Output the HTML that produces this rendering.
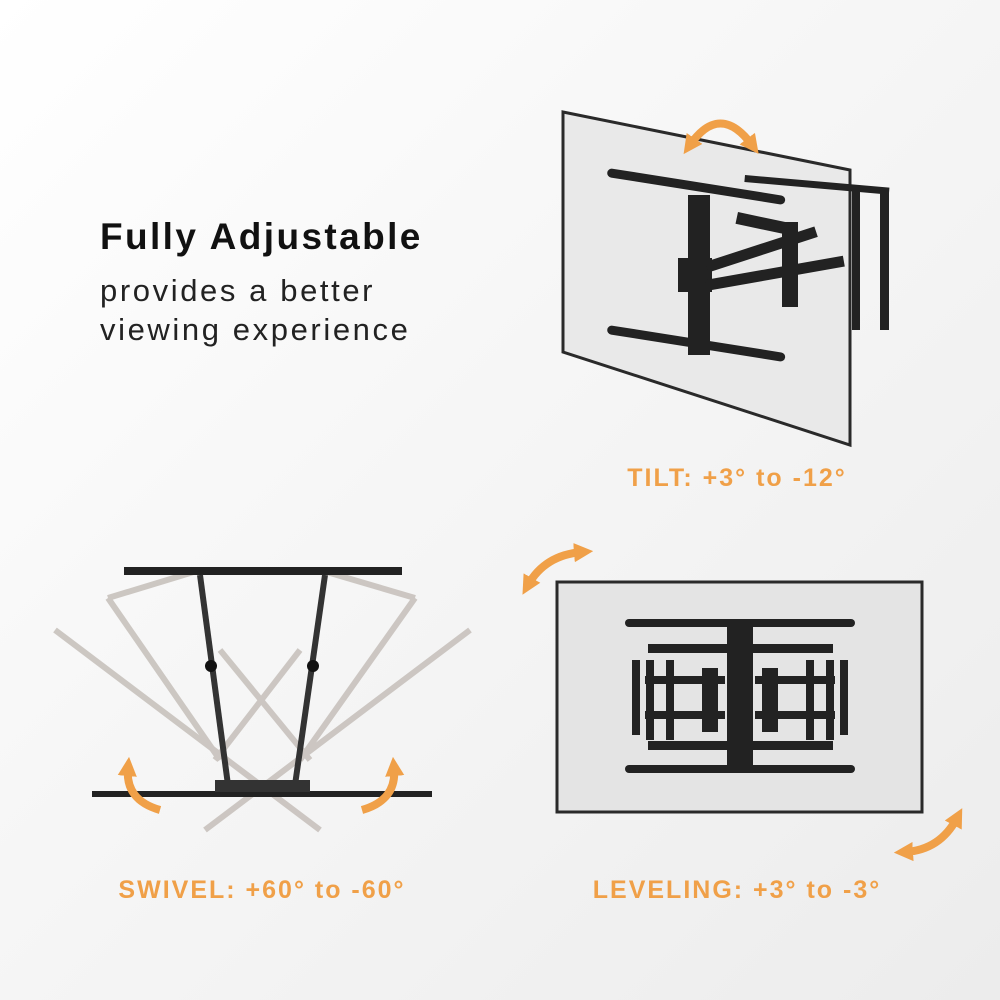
<!DOCTYPE html>
<html><head><meta charset="utf-8"><style>
html,body{margin:0;padding:0}
body{width:1000px;height:1000px;overflow:hidden;background:linear-gradient(135deg,#ffffff 0%,#f6f6f6 45%,#ececec 100%);font-family:"Liberation Sans",sans-serif;position:relative}
.t{position:absolute;white-space:nowrap}
.h{left:100px;top:216px;font-size:37px;font-weight:bold;color:#111;letter-spacing:2.4px}
.s{left:100px;font-size:31px;color:#222;letter-spacing:2.6px}
.o{font-size:25px;font-weight:bold;color:#f0a048;text-align:center;width:400px;letter-spacing:2px}
</style></head><body>
<div class="t h">Fully Adjustable</div>
<div class="t s" style="top:273px">provides a better</div>
<div class="t s" style="top:312px">viewing experience</div>
<div class="t o" style="left:537px;top:464px">TILT: +3° to -12°</div>
<div class="t o" style="left:62px;top:876px">SWIVEL: +60° to -60°</div>
<div class="t o" style="left:537px;top:876px">LEVELING: +3° to -3°</div>
<svg width="1000" height="1000" style="position:absolute;left:0;top:0">
<defs>
<marker id="ah" markerWidth="2.4" markerHeight="2.4" refX="1" refY="1.2" orient="auto"><path d="M0,0L2.4,1.2L0,2.4z" fill="#f0a048"/></marker>
<marker id="as" markerWidth="2.4" markerHeight="2.4" refX="1.4" refY="1.2" orient="auto"><path d="M2.4,0L0,1.2L2.4,2.4z" fill="#f0a048"/></marker>
</defs>
<polygon points="563,112 850,170 850,445 563,352" fill="#e9e9e9" stroke="#2a2a2a" stroke-width="3"/>
<g fill="#222" stroke="none">
<rect x="745" y="175" width="145" height="7" transform="rotate(5 745 175)"/>
<rect x="880" y="190" width="9" height="140"/>
<rect x="852" y="190" width="8" height="140"/>
<rect x="608" y="168" width="180" height="9" rx="4.5" transform="rotate(9 608 168)"/>
<rect x="608" y="325" width="180" height="9" rx="4.5" transform="rotate(9 608 325)"/>
<rect x="688" y="195" width="22" height="160"/>
<rect x="678" y="258" width="34" height="34"/>
<rect x="705" y="262" width="115" height="11" transform="rotate(-18 705 262)"/>
<rect x="705" y="280" width="140" height="11" transform="rotate(-10 705 280)"/>
<rect x="738" y="212" width="55" height="12" transform="rotate(12 738 212)"/>
<rect x="782" y="222" width="16" height="85"/>
</g>
<path d="M690,145 Q720,102 752,145" fill="none" stroke="#f0a048" stroke-width="8" marker-start="url(#as)" marker-end="url(#ah)"/>
<rect x="557" y="582" width="365" height="230" fill="#e4e4e4" stroke="#2a2a2a" stroke-width="3"/>
<g fill="#222">
<rect x="625" y="619" width="230" height="8" rx="4"/>
<rect x="625" y="765" width="230" height="8" rx="4"/>
<rect x="727" y="625" width="26" height="145"/>
<rect x="648" y="644" width="185" height="9"/>
<rect x="648" y="741" width="185" height="9"/>
<rect x="632" y="660" width="8" height="75"/>
<rect x="840" y="660" width="8" height="75"/>
<rect x="646" y="660" width="8" height="80"/><rect x="666" y="660" width="8" height="80"/>
<rect x="806" y="660" width="8" height="80"/><rect x="826" y="660" width="8" height="80"/>
<rect x="645" y="676" width="80" height="8"/><rect x="645" y="711" width="80" height="8"/>
<rect x="755" y="676" width="80" height="8"/><rect x="755" y="711" width="80" height="8"/>
<rect x="702" y="668" width="16" height="64"/><rect x="762" y="668" width="16" height="64"/>
</g>
<path d="M528,585 Q545,555 582,552" fill="none" stroke="#f0a048" stroke-width="8" marker-start="url(#as)" marker-end="url(#ah)"/>
<path d="M905,852 Q940,850 957,818" fill="none" stroke="#f0a048" stroke-width="8" marker-start="url(#as)" marker-end="url(#ah)"/>
<g stroke="#c8c2bd" stroke-width="6" fill="none" opacity="0.9">
<line x1="55" y1="630" x2="320" y2="830"/>
<line x1="470" y1="630" x2="205" y2="830"/>
<line x1="108" y1="598" x2="200" y2="570"/>
<line x1="108" y1="598" x2="220" y2="760"/>
<line x1="415" y1="598" x2="320" y2="570"/>
<line x1="415" y1="598" x2="300" y2="760"/>
<line x1="220" y1="650" x2="310" y2="760"/>
<line x1="300" y1="650" x2="215" y2="760"/>
</g>
<rect x="124" y="567" width="278" height="8" fill="#222"/>
<g stroke="#333" stroke-width="6">
<line x1="200" y1="575" x2="228" y2="785"/>
<line x1="325" y1="575" x2="295" y2="785"/>
</g>
<circle cx="211" cy="666" r="6" fill="#111"/><circle cx="313" cy="666" r="6" fill="#111"/>
<rect x="92" y="791" width="340" height="6" fill="#222"/>
<rect x="215" y="780" width="95" height="12" fill="#333"/>
<path d="M160,810 Q125,800 128,768" fill="none" stroke="#f0a048" stroke-width="8" marker-end="url(#ah)"/>
<path d="M362,810 Q397,800 394,768" fill="none" stroke="#f0a048" stroke-width="8" marker-end="url(#ah)"/>
</svg>
</body></html>
